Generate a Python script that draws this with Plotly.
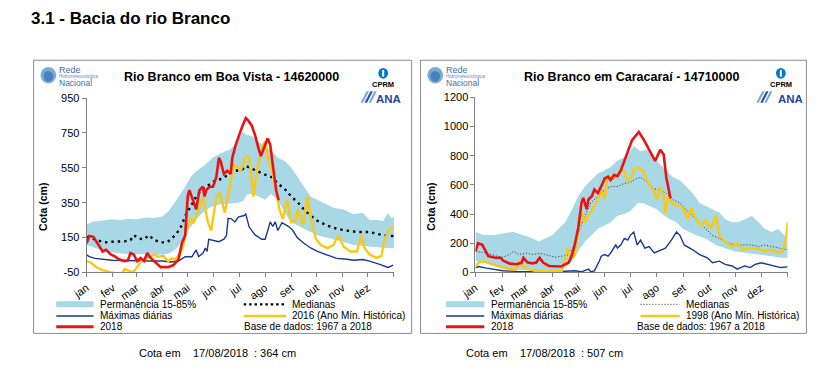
import plotly.graph_objects as go

W, H = 826, 383
def px(x): return x / W
def py(y): return 1 - y / H

FONT = "Arial, Liberation Sans, sans-serif"

# ---------------- data: Boa Vista (14620000) ----------------
bv_up_d = [0,7,14,21,30,40,50,60,70,80,90,97,104,111,118,124,130,140,150,160,170,178,185,190,197,204,212,220,227,235,243,251,258,266,274,282,293,305,317,328,336,345,352,358,362,365]
bv_up_v = [225,240,245,248,255,250,258,255,265,262,270,300,345,395,450,500,530,565,610,635,655,690,755,740,730,700,672,644,607,589,552,496,441,385,367,348,320,311,283,292,250,250,245,290,260,270]
bv_lo_d = [0,10,21,33,45,56,68,80,91,99,107,115,122,130,138,146,157,168,180,186,190,196,204,212,219,227,235,243,258,274,290,305,317,336,348,365]
bv_lo_v = [105,90,72,62,56,52,52,52,52,61,89,144,200,255,292,320,339,345,350,360,395,400,385,367,400,367,293,237,200,163,144,126,107,98,93,89]
bv_med_d = [0,6,14,21,29,37,45,52,56,62,68,74,79,87,95,99,105,111,114,118,124,130,136,142,148,153,161,169,177,185,189,196,204,212,220,227,235,243,251,258,266,274,285,297,309,321,336,345,352,365]
bv_med_v = [154,144,135,122,126,126,128,135,163,144,140,163,140,122,122,135,163,200,237,283,330,385,422,441,459,478,487,515,533,540,561,545,530,510,496,459,430,385,350,311,275,246,220,200,190,182,182,170,163,158]
bv_max_d = [0,3,10,20,30,45,60,75,90,100,109,117,125,130,133,138,141,143,145,150,157,163,166,168,172,176,180,187,189,193,200,208,212,218,221,224,227,232,240,245,250,258,266,274,286,297,309,317,328,336,348,352,358,364]
bv_max_v = [50,40,30,25,20,18,15,15,15,10,15,40,40,79,40,60,89,70,140,135,126,140,160,260,257,239,267,276,285,210,165,140,140,240,213,240,190,235,213,190,150,117,90,70,50,30,25,20,24,15,-4,-10,-22,-9]
bv_2018_d = [0,3,8,14,19,23,29,33,39,45,49,52,56,60,64,68,72,76,82,88,91,97,103,109,113,117,120,122,126,130,132,134,138,140,142,146,150,154,157,159,163,167,171,173,177,181,185,189,192,196,200,204,207,212,215,218,222,225,228]
bv_2018_v = [117,159,154,107,70,80,52,43,24,15,19,61,52,15,33,15,61,33,6,-20,-20,-20,-8,24,117,163,385,422,367,311,367,422,441,385,422,441,441,496,607,589,515,533,515,607,681,740,790,835,820,793,737,663,617,682,718,682,533,422,364]
bv_2016_d = [0,5,12,19,29,35,42,45,50,55,60,65,72,80,85,91,97,101,105,110,114,118,123,127,132,138,144,148,154,158,164,170,175,179,183,189,193,198,203,209,212,216,220,225,229,233,238,243,248,251,257,262,266,272,278,286,293,299,305,313,321,326,330,336,344,350,354,360,365]
bv_2016_v = [15,6,-22,-37,-50,-55,-55,-31,-40,-50,-20,15,33,52,40,45,15,30,24,52,89,181,255,237,293,385,237,190,385,404,293,441,570,552,533,617,607,385,552,681,700,589,533,422,311,256,367,237,246,311,219,385,274,144,107,89,107,163,98,70,70,163,89,52,33,43,144,200,209]

# ---------------- data: Caracaraí (14710000) ----------------
cc_up_d = [0,9,21,32,44,55,67,74,82,90,97,105,113,120,128,136,143,151,158,166,174,181,185,193,200,208,216,223,231,239,246,254,262,269,277,285,292,300,307,315,323,331,338,346,354,361,365]
cc_up_v = [278,256,256,267,278,256,233,211,233,256,300,344,433,522,589,633,678,700,722,767,789,830,865,830,842,786,742,697,653,631,587,542,476,454,432,410,365,343,343,365,387,343,299,277,299,254,210]
cc_lo_d = [0,9,21,32,44,55,70,85,97,105,113,120,128,136,143,151,158,166,174,181,190,196,204,212,219,227,235,242,250,258,269,281,292,304,315,330,346,357,365]
cc_lo_v = [78,67,44,33,22,16,11,11,13,33,78,144,211,256,300,322,344,389,400,421,476,476,454,432,399,365,343,299,277,254,232,188,166,144,133,122,111,100,100]
cc_med_d = [0,13,25,32,40,44,51,59,67,74,82,93,101,109,116,122,128,135,143,151,158,166,174,181,187,193,200,208,216,223,231,239,246,254,262,269,277,285,292,304,315,323,331,338,346,354,365]
cc_med_v = [144,133,111,104,122,144,122,133,122,130,122,104,111,122,189,300,389,478,522,567,589,589,611,616,640,653,620,575,564,542,498,476,432,387,343,299,254,232,210,188,188,188,177,188,177,166,155]
cc_max_d = [0,4,13,25,32,48,63,78,93,108,116,124,132,135,139,145,147,151,155,158,164,166,170,174,178,181,185,189,193,198,203,209,216,222,229,235,239,244,254,262,271,277,285,292,300,306,310,315,321,327,334,342,350,357,365]
cc_max_v = [33,40,29,16,11,7,4,4,4,7,11,4,22,4,10,80,111,122,111,133,189,167,189,233,222,254,277,188,221,166,177,133,150,166,221,277,254,188,155,122,100,66,77,55,44,22,33,44,33,55,66,55,44,33,38]
cc_2018_d = [0,3,8,12,15,23,29,33,40,48,54,56,61,67,71,75,79,86,94,100,105,109,113,116,120,124,126,130,132,136,139,143,147,151,155,158,162,166,170,174,178,183,191,197,204,210,216,220,223,227,228]
cc_2018_v = [144,200,189,144,111,100,100,78,60,56,67,100,67,62,67,100,67,44,44,40,56,67,122,189,300,478,511,433,500,522,567,544,589,644,656,633,667,660,700,760,820,907,963,907,830,764,841,808,653,542,507]
cc_1998_d = [0,4,10,17,25,32,40,48,50,51,55,61,70,82,93,101,105,108,112,116,120,124,128,132,136,139,143,147,151,154,158,162,166,170,174,178,182,185,191,197,202,208,212,216,220,222,225,231,239,244,248,252,258,264,269,275,281,285,292,300,306,313,321,331,338,346,355,359,363,365]
cc_1998_v = [44,67,78,60,44,33,22,22,56,78,44,22,11,7,11,11,100,167,89,122,278,411,344,389,420,455,500,567,500,633,656,644,678,700,700,620,650,708,719,686,609,564,498,586,520,409,520,465,454,432,365,443,365,321,354,299,387,254,210,177,199,155,166,166,144,155,133,144,232,343]

month_days = [0,31,59,90,120,151,181,212,243,273,304,334,365]
month_labels = ["jan","fev","mar","abr","mai","jun","jul","ago","set","out","nov","dez",""]
bv_yticks = [-50,150,350,550,750,950]
cc_yticks = [0,200,400,600,800,1000,1200]

BAND = "rgb(168,216,230)"
BLUE = "rgb(25,55,150)"
RED = "rgb(232,20,20)"
YELLOW = "rgb(250,200,20)"
AXIS = "rgb(128,128,128)"

fig = go.Figure()

def add_panel(xa, ya, up_d, up_v, lo_d, lo_v, med_d, med_v, mx_d, mx_v,
              yr_d, yr_v, cur_d, cur_v, med_w, med_dash, med_col):
    fig.add_trace(go.Scatter(x=up_d + lo_d[::-1], y=up_v + lo_v[::-1], fill="toself",
                             fillcolor=BAND, line=dict(width=0), mode="lines",
                             xaxis=xa, yaxis=ya, hoverinfo="skip", showlegend=False))
    fig.add_trace(go.Scatter(x=mx_d, y=mx_v, mode="lines", line=dict(color=BLUE, width=1.4),
                             xaxis=xa, yaxis=ya, showlegend=False))
    fig.add_trace(go.Scatter(x=med_d, y=med_v, mode="lines",
                             line=dict(color=med_col, width=med_w, dash=med_dash),
                             xaxis=xa, yaxis=ya, showlegend=False))
    fig.add_trace(go.Scatter(x=yr_d, y=yr_v, mode="lines", line=dict(color=YELLOW, width=2.4),
                             xaxis=xa, yaxis=ya, showlegend=False))
    fig.add_trace(go.Scatter(x=cur_d, y=cur_v, mode="lines", line=dict(color=RED, width=2.6),
                             xaxis=xa, yaxis=ya, showlegend=False))

add_panel("x", "y", bv_up_d, bv_up_v, bv_lo_d, bv_lo_v, bv_med_d, bv_med_v,
          bv_max_d, bv_max_v, bv_2016_d, bv_2016_v, bv_2018_d, bv_2018_v,
          2.4, "2.4px,4px", "black")
add_panel("x2", "y2", cc_up_d, cc_up_v, cc_lo_d, cc_lo_v, cc_med_d, cc_med_v,
          cc_max_d, cc_max_v, cc_1998_d, cc_1998_v, cc_2018_d, cc_2018_v,
          1, "1px,2px", "rgb(40,40,40)")

xcommon = dict(range=[0, 365], tickvals=month_days, ticktext=month_labels, tickangle=-35,
               showline=True, linecolor=AXIS, linewidth=1, ticks="outside", ticklen=4,
               tickcolor=AXIS, showgrid=False, zeroline=False,
               tickfont=dict(family=FONT, size=11, color="black"))
ycommon = dict(showline=True, linecolor=AXIS, linewidth=1, ticks="outside", ticklen=4,
               tickcolor=AXIS, showgrid=False, zeroline=False,
               tickfont=dict(family=FONT, size=11, color="black"))

fig.update_layout(
    width=W, height=H, margin=dict(l=0, r=0, t=0, b=0),
    paper_bgcolor="white", plot_bgcolor="white", showlegend=False,
    xaxis=dict(domain=[px(73), px(386)], anchor="y", **xcommon),
    yaxis=dict(domain=[py(275), py(95)], anchor="x", range=[-50, 950],
               tickvals=bv_yticks, ticktext=[str(v) for v in bv_yticks], **ycommon),
    xaxis2=dict(domain=[px(469), px(787)], anchor="y2", **xcommon),
    yaxis2=dict(domain=[py(275), py(94.3)], anchor="x2", range=[0, 1200],
                tickvals=cc_yticks, ticktext=[str(v) for v in cc_yticks], **ycommon),
)

shapes = []
ann = []

def text(x, y, s, size=10, bold=False, color="black", anchor="left", angle=0):
    ann.append(dict(x=px(x), y=py(y), xref="paper", yref="paper", text=("<b>%s</b>" % s) if bold else s,
                    showarrow=False, xanchor=anchor, yanchor="middle", textangle=angle,
                    font=dict(family=FONT, size=size, color=color)))

def hline(x0, x1, y, color, width, dash="solid"):
    shapes.append(dict(type="line", xref="paper", yref="paper", x0=px(x0), x1=px(x1),
                       y0=py(y), y1=py(y), line=dict(color=color, width=width, dash=dash)))

# main title
text(14, 13, "3.1 - Bacia do rio Branco", size=17, bold=True)

# panel boxes
for x0, x1 in [(19, 404), (413, 806)]:
    shapes.append(dict(type="rect", xref="paper", yref="paper", x0=px(x0), x1=px(x1),
                       y0=py(338), y1=py(56), line=dict(color="rgb(140,140,140)", width=1)))

# panel titles
text(221, 73, "Rio Branco em Boa Vista - 14620000", size=12.5, bold=True, anchor="center")
text(628, 73, "Rio Branco em Caracaraí - 14710000", size=12.5, bold=True, anchor="center")

# y titles
text(28, 207, "Cota (cm)", size=10.5, bold=True, anchor="center", angle=-90)
text(423, 207, "Cota (cm)", size=10.5, bold=True, anchor="center", angle=-90)

def logos(x0, cprm_x, ana_icon_x, ana_x):
    # Rede Hidrometeorológica Nacional
    shapes.append(dict(type="circle", xref="paper", yref="paper", x0=px(x0 + 7), x1=px(x0 + 23),
                       y0=py(80), y1=py(63), fillcolor="rgb(120,170,210)", line=dict(width=0)))
    shapes.append(dict(type="circle", xref="paper", yref="paper", x0=px(x0 + 10), x1=px(x0 + 20),
                       y0=py(78), y1=py(67), fillcolor="rgb(70,130,190)", line=dict(width=0)))
    text(x0 + 24, 66, "Rede", size=9, color="rgb(70,110,170)")
    text(x0 + 24, 73, "Hidrometeorológica", size=4.5, color="rgb(90,140,200)")
    text(x0 + 24, 79, "Nacional", size=8.5, color="rgb(70,110,170)")
    # CPRM
    shapes.append(dict(type="circle", xref="paper", yref="paper", x0=px(cprm_x - 5), x1=px(cprm_x + 5),
                       y0=py(75), y1=py(64), fillcolor="rgb(0,120,200)", line=dict(width=0)))
    shapes.append(dict(type="rect", xref="paper", yref="paper", x0=px(cprm_x - 1), x1=px(cprm_x + 1),
                       y0=py(73), y1=py(66), fillcolor="white", line=dict(width=0)))
    text(cprm_x, 81, "CPRM", size=7.5, bold=True, anchor="center")
    # ANA
    for i, c in enumerate(["rgb(120,170,220)", "rgb(40,80,170)", "rgb(120,170,220)"]):
        xs = ana_icon_x - 6 + i * 4
        shapes.append(dict(type="path", xref="paper", yref="paper",
                           path="M %f %f L %f %f L %f %f L %f %f Z" % (
                               px(xs), py(100), px(xs + 6), py(88), px(xs + 8.5), py(88), px(xs + 2.5), py(100)),
                           fillcolor=c, line=dict(width=0)))
    text(ana_x, 96, "ANA", size=11.5, bold=True, color="rgb(40,70,160)", anchor="center")

logos(19, 375, 358, 380)
logos(413, 780, 761, 790)

def legend(c1s, c1e, c1t, c2s, c2e, c2t, base_x, min_label, med_w, med_dash, med_col):
    r1, r2, r3 = 308, 320, 331
    hline(c1s, c1e, r1, BAND, 6)
    text(c1t, r1, "Permanência 15-85%")
    hline(c1s, c1e, r2, BLUE, 1.5)
    text(c1t, r2, "Máximas diárias")
    hline(c1s, c1e, r3, RED, 3)
    text(c1t, r3, "2018")
    hline(c2s, c2e, r1, med_col, med_w, med_dash)
    text(c2t, r1, "Medianas")
    hline(c2s, c2e, r2, YELLOW, 2.5)
    text(c2t, r2, min_label)
    text(base_x, r3, "Base de dados: 1967 a 2018")

legend(42, 80, 85, 233, 276, 280, 231, "2016 (Ano Mín. Histórica)", 2.4, "2.4px,3px", "black")
legend(439, 478, 483, 637, 677, 681, 631, "1998 (Ano Mín. Histórica)", 1, "1px,2px", "rgb(40,40,40)")

# bottom notes
for xs, val in [(124, "364"), (457, "507")]:
    text(xs, 358, "Cota em", size=11)
    text(xs + 55, 358, "17/08/2018", size=11)
    text(xs + 117, 358, ": %s cm" % val, size=11)

fig.update_layout(shapes=shapes, annotations=ann)

POST = (
    "document.documentElement.style.margin='0px';"
    "document.documentElement.style.overflow='hidden';"
    "document.body.style.margin='0px';document.body.style.padding='0px';"
    "document.body.style.overflow='hidden';"
    "var d=document.getElementById('{plot_id}');"
    "d.style.position='fixed';d.style.left='0px';d.style.top='0px';"
)
fig.write_html("out.html", config={"displayModeBar": False}, post_script=POST)
